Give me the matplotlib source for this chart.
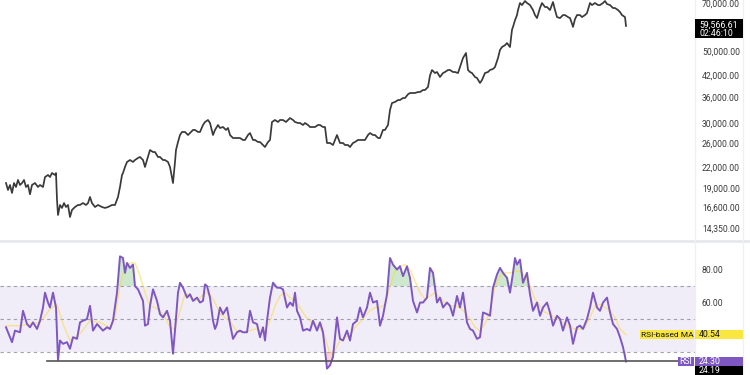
import numpy as np
import matplotlib
matplotlib.use("Agg")
import matplotlib.pyplot as plt
from matplotlib.patches import Rectangle

plt.rcParams['font.family'] = ['Roboto', 'DejaVu Sans']

# ---------------- data ----------------
price_day = [6, 8, 10, 12, 14, 16, 18, 20, 22, 24, 26, 28, 30, 32, 35, 38, 40, 43, 45, 48, 50, 52, 55, 56,
             57, 58, 60, 62, 64, 66, 68, 70, 72, 75, 78, 80, 83, 86, 88, 90, 92, 95, 98, 102, 105, 108, 112,
             115, 118, 120, 122, 123, 125, 127, 130, 133, 135, 138, 140, 143, 145, 147, 150, 153, 155, 158,
             160, 163, 165, 168, 170, 173, 175, 176, 178, 180, 182, 185, 188, 190, 193, 195, 198, 200, 203,
             205, 208, 210, 213, 215, 218, 220, 223, 226, 228, 230, 233, 236, 240, 243, 245, 248, 250, 253,
             255, 258, 260, 263, 265, 268, 270, 272, 275, 278, 280, 283, 286, 290, 293, 295, 298, 300, 303,
             305, 308, 310, 313, 315, 318, 320, 323, 325, 327, 330, 333, 337, 340, 343, 345, 348, 350, 353,
             355, 358, 360, 363, 365, 368, 370, 373, 375, 378, 380, 383, 385, 388, 390, 392, 395, 398, 400,
             403, 405, 408, 410, 413, 415, 418, 420, 423, 425, 428, 430, 432, 435, 437, 440, 443, 445, 448,
             450, 453, 455, 458, 460, 463, 466, 468, 470, 472, 475, 477, 480, 482, 485, 488, 490, 493, 495,
             498, 500, 502, 505, 507, 510, 512, 513, 515, 517, 518, 520, 522, 525, 527, 530, 533, 535, 537,
             540, 542, 545, 547, 550, 553, 555, 557, 560, 563, 565, 568, 570, 572, 573, 575, 577, 580, 582,
             585, 587, 590, 592, 595, 598, 600, 603, 605, 607, 610, 613, 615, 618, 620, 622, 625, 626]
price = [19700, 18760, 19430, 18370, 19700, 19160, 20130, 19430, 19700, 20130, 19160, 19430, 18200, 19430,
         19700, 19160, 19430, 19160, 20550, 20850, 20550, 21140, 20850, 21140,
         17500, 15730, 16880, 16530, 17110, 16640, 16880, 15510, 16300, 16640, 16880, 16880, 17110, 16880,
         17110, 17860, 17110, 16640, 16880, 16640, 16530, 16640, 16880,
         16880, 17860, 19160, 20850, 21140, 22060, 22850, 23170, 22850, 23170, 23500, 23670, 23170, 22060,
         23170, 24860, 24510, 24510, 23670,
         23670, 23170, 23170, 22850, 22060, 19700, 22850, 24860, 26300, 27630, 28230, 28230, 27630, 28020,
         28630, 28630, 28230, 28230, 29650,
         30280, 30710, 30070, 27630, 28630, 29650, 29030, 29230, 28630, 29030, 27630, 27050, 27050, 27050,
         26680, 26680, 27630, 28020, 26680,
         26680, 26300, 26300, 25750, 25390, 26300, 26680, 30280, 30710, 30280, 30710, 30710, 30280, 31140,
         30710, 30280, 30070, 30070, 29650,
         30070, 29650, 29230, 29230, 29230, 29650, 29650, 29230, 29230, 26120, 26120, 25750, 27630, 26120,
         26120, 25750, 25750, 25390, 26120,
         26300, 26680, 26680, 26680, 26680, 27630, 28020, 27630, 27630, 27050, 27050, 28630, 28630, 29650,
         32950, 34620, 34860, 35350, 35350,
         35850, 35850, 36800, 37140, 37140, 37140, 37400, 37400, 37930, 37930, 38750, 42000, 43670, 42750,
         43060, 41570, 42750, 43060, 43670,
         43670, 43060, 43060, 42750, 44600, 47520, 49230, 43670, 43060, 42750, 41570, 41280, 39850, 40700,
         42750, 43060, 43670, 44000, 44600,
         47520, 50300, 51340, 52000, 52800, 51340, 58000, 59150, 62000, 64300, 66620, 70000, 69000, 71000,
         70000, 69000, 66620, 64300, 62960,
         67570, 70000, 68050, 68050, 66620, 70500, 66620, 63400, 62960, 64300, 64300, 63400, 62960, 60500,
         59150, 62500, 64300, 64300, 63400,
         64300, 65220, 70000, 69000, 70000, 69000, 69000, 70000, 71000, 69500, 69000, 67570, 67570, 66620,
         65680, 64300, 63400, 59566.61]

rsi_day = [6, 10, 12, 15, 20, 23, 27, 30, 33, 37, 40, 43, 45, 48, 50, 53, 56, 58, 60, 63, 67, 70, 73, 77,
           80, 83, 87, 90, 93, 97, 100, 103, 107, 110, 113, 117, 120, 123, 125, 127, 130, 133, 135, 138,
           143, 145, 148, 150, 153, 157, 160, 163, 167, 170, 173, 175, 178, 180, 183, 187, 190, 193, 197,
           200, 203, 205, 207, 210, 213, 215, 217, 220, 223, 227, 230, 233, 237, 240, 243, 247, 250, 253,
           257, 260, 263, 265, 267, 270, 273, 277, 280, 283, 287, 290, 293, 295, 297, 300, 303, 307, 310,
           313, 317, 320, 323, 327, 330, 333, 337, 340, 343, 347, 350, 353, 357, 360, 363, 367, 370, 373,
           377, 380, 383, 387, 390, 393, 397, 400, 403, 407, 410, 413, 417, 420, 423, 427, 430, 433, 437,
           440, 443, 447, 450, 453, 457, 460, 463, 467, 470, 473, 477, 480, 483, 487, 490, 493, 497, 500,
           503, 507, 510, 513, 515, 517, 520, 523, 527, 530, 533, 537, 540, 543, 547, 550, 553, 557, 560,
           563, 567, 570, 573, 577, 580, 583, 587, 590, 593, 597, 600, 603, 607, 610, 613, 617, 620, 623, 626]
rsi = [45, 39, 36, 43, 42, 55, 47, 45, 48, 44, 49, 57, 66, 60, 57, 66, 57, 25, 37, 35, 36, 32, 39, 38,
       48, 49, 50, 58, 43, 47, 45, 43, 45, 44, 49, 66, 88, 87, 78, 84, 81, 83, 70, 68,
       61, 46, 47, 58, 68, 61, 53, 51, 55, 49, 29, 43, 66, 72, 69, 63, 65, 61, 63,
       60, 61, 71, 70, 63, 49, 44, 47, 57, 53, 57, 47, 38, 42, 43, 42, 42, 55, 48,
       47, 39, 45, 37, 49, 63, 72, 69, 69, 68, 57, 60, 58, 66, 55, 51, 43, 44, 43,
       49, 43, 48, 42, 20, 22, 27, 51, 38, 37, 43, 37, 47, 49, 57, 51, 57, 66, 60,
       61, 46, 52, 65, 87, 83, 80, 82, 76, 82, 75, 61, 54, 60, 60, 63, 81, 78, 60,
       63, 57, 60, 58, 52, 64, 57, 66, 48, 44, 43, 38, 39, 54, 53, 52, 69, 77, 81,
       78, 75, 66, 78, 87, 83, 86, 72, 78, 65, 55, 60, 52, 57, 60, 54, 46, 52, 50,
       43, 51, 46, 35, 45, 46, 44, 50, 57, 66, 57, 55, 60, 63, 54, 47, 44, 39, 33, 24.30]

ma_day = [6, 20, 30, 40, 50, 57, 63, 70, 80, 90, 100, 110, 115, 120, 125, 130, 135, 140, 145, 150, 155,
          160, 165, 170, 175, 180, 185, 190, 195, 200, 205, 210, 215, 220, 225, 230, 235, 240, 245, 250,
          255, 260, 265, 270, 275, 280, 285, 290, 295, 300, 305, 310, 315, 320, 325, 330, 335, 340, 345,
          350, 355, 360, 365, 370, 375, 380, 385, 390, 395, 400, 405, 410, 415, 420, 425, 430, 435, 440,
          445, 450, 455, 460, 465, 470, 475, 480, 485, 490, 495, 500, 505, 510, 515, 520, 525, 530, 535,
          540, 545, 550, 555, 560, 565, 570, 575, 580, 585, 590, 595, 600, 605, 610, 615, 620, 626]
rsi_ma = [46, 46, 47, 48, 56, 59, 47, 37, 41, 49, 48, 45, 51, 70, 82, 84, 84, 76, 66, 58, 57,
          55, 51, 45, 44, 55, 65, 65, 61, 63, 66, 65, 60, 53, 51, 49, 44, 42, 42, 43,
          44, 43, 43, 49, 58, 64, 66, 63, 61, 57, 52, 49, 47, 45, 39, 29, 31, 37, 39,
          40, 45, 48, 52, 55, 57, 57, 59, 70, 79, 82, 83, 80, 73, 66, 62, 64, 66, 63,
          60, 58, 58, 57, 54, 50, 45, 43, 47, 55, 70, 76, 78, 78, 79, 79, 76, 70, 62,
          58, 54, 53, 51, 49, 47, 45, 44, 44, 45, 51, 58, 59, 57, 55, 51, 44, 40.54]

price_ticks = [70000, 50000, 42000, 36000, 30000, 26000, 22000, 19000, 16600, 14350]
rsi_ticks = [80, 60]
rsi_levels = [70, 50, 30]
hline_value = 24.5
hline_days = [47, 678]
last_price = 59566.61
countdown = "02:46:10"
last_rsi = 24.30
last_ma = 40.54
last_close_rsi = 24.19

# ---------------- figure ----------------
W, H = 750, 375
fig = plt.figure(figsize=(W / 100, H / 100), dpi=100)
fig.patch.set_facecolor('white')

axp = fig.add_axes([0, 135 / H, 695 / W, 240 / H])
axr = fig.add_axes([0, 0, 695 / W, 133 / H])

txt_col = '#3a3a3a'
for ax in (axp, axr):
    ax.set_xlim(0, 695)
    for s in ax.spines.values():
        s.set_visible(False)
    ax.set_xticks([])
    ax.yaxis.tick_right()
    ax.tick_params(axis='y', length=0, pad=5, labelsize=6.2, labelcolor=txt_col)
    ax.set_facecolor('none')

# price pane
axp.set_yscale('log')
axp.set_ylim(13190, 71500)
axp.plot(price_day, price, color='#3a3a3a', lw=1.25)
axp.set_yticks(price_ticks)
axp.set_yticklabels([f"{v:,.2f}" for v in price_ticks])
axp.yaxis.set_minor_locator(matplotlib.ticker.NullLocator())

# RSI pane
axr.set_ylim(16.1, 96.7)
axr.axhspan(rsi_levels[2], rsi_levels[0], color='#7E57C2', alpha=0.10, lw=0)
for lv in rsi_levels:
    axr.axhline(lv, color='#8A8D96', lw=0.8, ls=(0, (3, 3)), alpha=0.8)
rd = np.array(rsi_day, dtype=float)
rv = np.array(rsi, dtype=float)
axr.fill_between(rd, rv, 70, where=rv > 70, interpolate=True, color='#4CAF50', alpha=0.28, lw=0)
axr.fill_between(rd, rv, 30, where=rv < 30, interpolate=True, color='#F44336', alpha=0.22, lw=0)
axr.plot(ma_day, rsi_ma, color='#FDD835', lw=1.0, alpha=0.55)
axr.plot(rsi_day, rsi, color='#7E57C2', lw=1.4)
axr.plot(hline_days, [hline_value, hline_value], color='#555555', lw=1.2, clip_on=False)
axr.set_yticks(rsi_ticks)
axr.set_yticklabels([f"{v:.2f}" for v in rsi_ticks])

# pane separator & scale borders
fig.add_artist(plt.Line2D([0, 1], [134 / H, 134 / H], color='#E6E8EE', lw=2))
fig.add_artist(plt.Line2D([695 / W, 695 / W], [0, 1], color='#EEF0F4', lw=1))
fig.add_artist(plt.Line2D([743 / W, 743 / W], [0, 1], color='#EEF0F4', lw=1))

fig.canvas.draw()


def ypix(ax, val):
    return ax.transData.transform((0, val))[1]


def box(x0, x1, y_top, y_bot, fc):
    fig.add_artist(Rectangle((x0 / W, y_bot / H), (x1 - x0) / W, (y_top - y_bot) / H,
                             transform=fig.transFigure, facecolor=fc, edgecolor='none', zorder=5))


def label(x, y, s, col, ha='left', fs=6.3):
    fig.text(x / W, y / H, s, color=col, fontsize=fs, ha=ha, va='center', zorder=6)


# last price tag
yp = ypix(axp, last_price)
box(695, 743, yp + 7, yp - 12, '#000000')
label(699, yp + 1, f"{last_price:,.2f}", 'white')
label(699, yp - 7.5, countdown, 'white')

# RSI-based MA tag
ym = ypix(axr, last_ma)
box(640, 694, ym + 4.5, ym - 4.5, '#F9E63F')
label(667, ym, 'RSI-based MA', '#131722', ha='center', fs=6.0)
box(695, 743, ym + 4.5, ym - 4.5, '#F9E63F')
label(699, ym, f"{last_ma:.2f}", '#131722')

# RSI tag
yr = ypix(axr, last_rsi)
box(678, 694, yr + 4.5, yr - 4.5, '#7E57C2')
label(686, yr, 'RSI', 'white', ha='center')
box(695, 743, yr + 4.5, yr - 4.5, '#7E57C2')
label(699, yr, f"{last_rsi:.2f}", 'white')

# closing value tag
box(695, 743, yr - 4.5, yr - 14, '#000000')
label(699, yr - 9.3, f"{last_close_rsi:.2f}", 'white')

fig.savefig('out.png', dpi=100, facecolor='white')
